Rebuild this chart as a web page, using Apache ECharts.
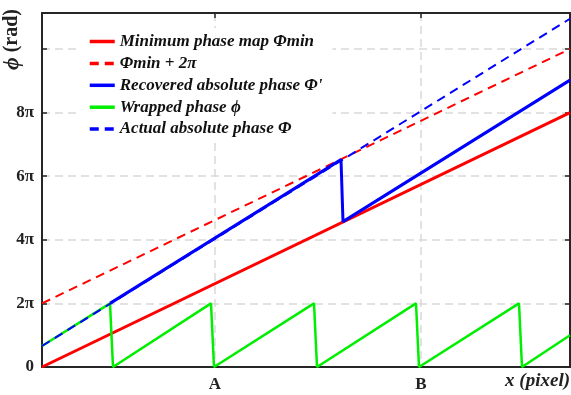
<!DOCTYPE html>
<html><head><meta charset="utf-8">
<script src="https://cdn.jsdelivr.net/npm/echarts@6/dist/echarts.min.js"></script>
<style>html,body{margin:0;padding:0;background:#fff}#c{width:571px;height:395px}</style>
</head><body><div id="c"></div>
<script>
// x in pixels, y in units of pi (rad / pi)
const xMin = 0, xMax = 528;
const yMax = 11.13;
const xTickValues = [173, 379];
const xTickLabels = ['A', 'B'];
const yTickLabels = ['0', '2π', '4π', '6π', '8π', ''];

const minPhaseX = [0, 528];
const minPhaseY = [0, 8];
const minPlus2X = [0, 528];
const minPlus2Y = [2, 10];
const recoveredX = [68, 299, 301, 528];
const recoveredY = [2, 6.52, 4.57, 9.02];
const wrappedX = [0, 68, 71, 169, 172, 272, 275, 374, 377, 477, 480, 528];
const wrappedY = [0.66, 2, 0, 2, 0, 2, 0, 2, 0, 2, 0, 1.0];
const actualX = [0, 528];
const actualY = [0.66, 10.95];

const names = ['Minimum phase map Φmin', 'Φmin + 2π', "Recovered absolute phase Φ'", 'Wrapped phase ϕ', 'Actual absolute phase Φ'];

function pairs(xs, ys) { return xs.map((x, i) => [x, ys[i]]); }

const FONT = 'Liberation Serif';
const axisColor = '#262626';

const chart = echarts.init(document.getElementById('c'), null, {renderer: 'canvas'});
const tickStyle = {show: true, inside: true, length: 5, lineStyle: {color: axisColor, width: 1.5}};
chart.setOption({
  animation: false,
  backgroundColor: '#fff',
  grid: {left: 42, right: 1, top: 13, bottom: 28, containLabel: false},
  legend: {
    orient: 'vertical', left: 78, top: 28,
    padding: [5, 10, 5, 10], backgroundColor: '#fff',
    itemWidth: 25, itemHeight: 14, itemGap: 4.9,
    itemStyle: {opacity: 0},
    lineStyle: {width: 3.5},
    data: names,
    textStyle: {fontFamily: FONT, fontSize: 17, fontWeight: 'bold', fontStyle: 'italic', color: '#111'}
  },
  xAxis: [{
    type: 'value', min: xMin, max: xMax, position: 'bottom',
    axisLine: {show: true, onZero: false, lineStyle: {color: axisColor, width: 2}},
    axisTick: Object.assign({customValues: xTickValues}, tickStyle, {show: false}),
    axisLabel: {customValues: xTickValues, formatter: v => xTickLabels[xTickValues.indexOf(v)] || '',
      fontFamily: FONT, fontSize: 17, fontWeight: 'bold', color: '#222', margin: 9},
    splitLine: {show: true, lineStyle: {color: '#d9d9d9', width: 1.5, type: [8, 5]}}
  }, {
    type: 'value', min: xMin, max: xMax, position: 'top',
    axisLine: {show: true, onZero: false, lineStyle: {color: axisColor, width: 2}},
    axisTick: Object.assign({customValues: xTickValues}, tickStyle),
    axisLabel: {show: false}, splitLine: {show: false}
  }],
  yAxis: [{
    type: 'value', min: 0, max: yMax, interval: 2, position: 'left',
    axisLine: {show: true, onZero: false, lineStyle: {color: axisColor, width: 2}},
    axisTick: tickStyle,
    axisLabel: {formatter: v => yTickLabels[Math.round(v / 2)] || '', showMaxLabel: false,
      fontFamily: FONT, fontSize: 17, fontWeight: 'bold', color: '#222', margin: 8},
    splitLine: {show: true, lineStyle: {color: '#d9d9d9', width: 1.5, type: [8, 5]}}
  }, {
    type: 'value', min: 0, max: yMax, interval: 2, position: 'right',
    axisLine: {show: true, onZero: false, lineStyle: {color: axisColor, width: 2}},
    axisTick: tickStyle, axisLabel: {show: false}, splitLine: {show: false}
  }],
  series: [
    {name: names[0], type: 'line', data: pairs(minPhaseX, minPhaseY), symbol: 'none', lineStyle: {color: '#ff0000', width: 3}, itemStyle: {color: '#ff0000'}},
    {name: names[1], type: 'line', data: pairs(minPlus2X, minPlus2Y), symbol: 'none', lineStyle: {color: '#ff0000', width: 2, type: [9, 6]}, itemStyle: {color: '#ff0000'}},
    {name: names[2], type: 'line', data: pairs(recoveredX, recoveredY), symbol: 'none', lineStyle: {color: '#0000ff', width: 3}, itemStyle: {color: '#0000ff'}},
    {name: names[3], type: 'line', data: pairs(wrappedX, wrappedY), symbol: 'none', lineStyle: {color: '#00ee00', width: 2.5}, itemStyle: {color: '#00ee00'}},
    {name: names[4], type: 'line', data: pairs(actualX, actualY), symbol: 'none', lineStyle: {color: '#0000ff', width: 2, type: [9, 6]}, itemStyle: {color: '#0000ff'}}
  ],
  graphic: [
    {type: 'text', left: 1, top: 9, rotation: Math.PI / 2,
      style: {text: '{i|ϕ} (rad)', fontFamily: FONT, fontSize: 20, fontWeight: 'bold', fill: '#222',
        rich: {i: {fontFamily: FONT, fontSize: 22, fontStyle: 'italic', fontWeight: 'bold'}}}},
    {type: 'text', right: 1, top: 372,
      style: {text: 'x (pixel)', fontFamily: FONT, fontSize: 19, fontWeight: 'bold', fontStyle: 'italic', fill: '#222'}}
  ]
});
</script></body></html>
